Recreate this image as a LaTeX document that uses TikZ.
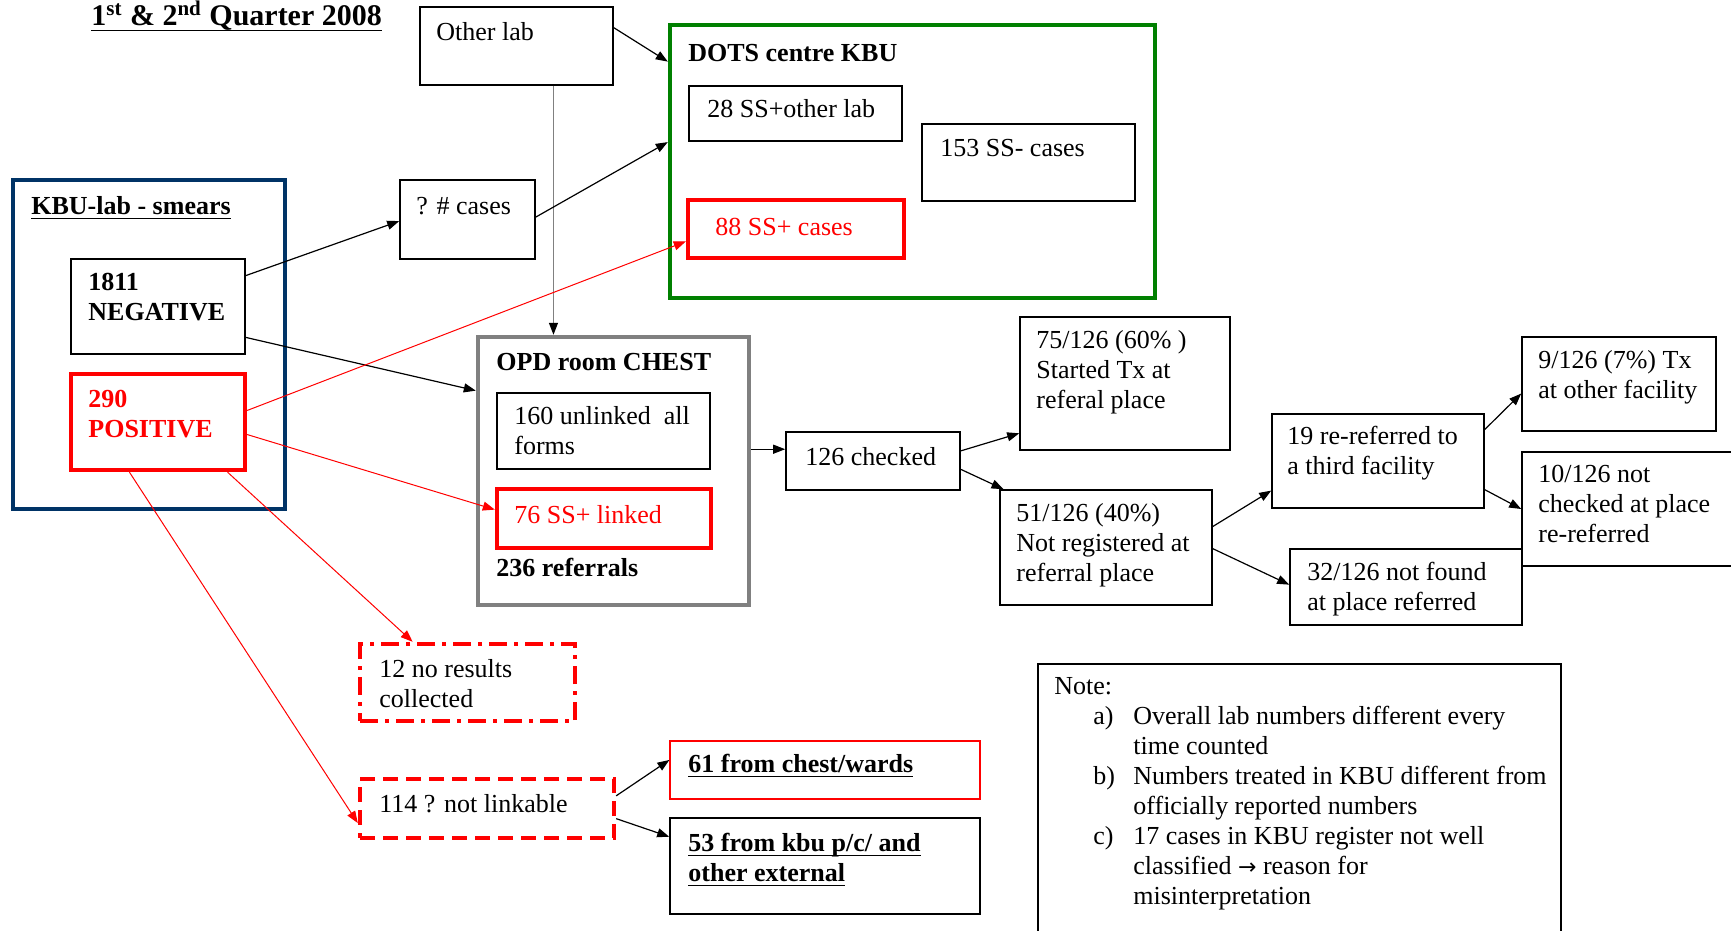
\documentclass[tikz,border=0pt]{standalone}
\usepackage{fontspec}
\setmainfont{Liberation Serif}
\newfontfamily\arrowfont{DejaVu Sans}
\usetikzlibrary{arrows.meta,fit,calc}
\newcommand\fs{\fontsize{13}{15}\selectfont}
\newcommand\myul[1]{\setbox0\hbox{#1}\rlap{\rule[-2.5pt]{\wd0}{0.7pt}}\box0}
\definecolor{navyb}{RGB}{0,51,102}
\definecolor{dgreen}{RGB}{0,128,0}
\definecolor{boxgray}{RGB}{128,128,128}
\definecolor{pred}{RGB}{255,0,0}
\begin{document}
\begin{tikzpicture}[x=0.5pt,y=-0.5pt,
 bx/.style={draw=black, line width=0.8pt, inner sep=0pt},
 thk/.style={line width=2.2pt, inner sep=0pt},
 txt/.style={anchor=north west, inner sep=0pt, align=left, font=\fs},
 arr/.style={-{Triangle[length=6pt,width=4.5pt]}, line width=0.6pt},
 rarr/.style={-{Triangle[length=6pt,width=4.5pt]}, draw=pred, line width=0.5pt}
]
\useasboundingbox (0,0) rectangle (1731,931);
\clip (0,0) rectangle (1731,931);
\fill[white] (0,0) rectangle (1731,931);

% title
\node[anchor=base west, inner sep=0pt, font=\fontsize{15}{17}\selectfont\bfseries] (title) at (91,26) {\myul{1\textsuperscript{st} \& 2\textsuperscript{nd} Quarter 2008}};

% Other lab
\node[bx, fit={(420,7)(613,85)}] (ol) {};
\node[txt] (olt) at (436,19) {\strut Other lab};

% DOTS centre
\node[thk, draw=dgreen, fit={(670,25)(1155,298)}] (dots) {};
\node[txt, font=\fs\bfseries] (dotst) at (688,40) {\strut DOTS centre KBU};
\node[bx, fit={(689,86)(902,141)}] (s28) {};
\node[txt] (s28t) at (707,96) {\strut 28 SS+other lab};
\node[bx, fit={(922,124)(1135,201)}] (s153) {};
\node[txt] (s153t) at (940,135) {\strut 153 SS- cases};
\node[thk, draw=pred, fit={(688,200)(904,258)}] (s88) {};
\node[txt, text=pred] (s88t) at (715,214) {\strut 88 SS+ cases};

% KBU lab
\node[thk, draw=navyb, fit={(13,180)(285,509)}] (kbu) {};
\node[txt, font=\fs\bfseries] (kbut) at (31,193) {\strut\myul{KBU-lab - smears}};
\node[bx, fit={(71,259)(245,354)}] (neg) {};
\node[txt, font=\fs\bfseries] (negt) at (88,269) {\strut 1811\\NEGATIVE};
\node[thk, draw=pred, fit={(71,374)(245,470)}] (pos) {};
\node[txt, font=\fs\bfseries, text=pred] (post) at (88,386) {\strut 290\\POSITIVE};

% ? # cases
\node[bx, fit={(400,180)(535,259)}] (cases) {};
\node[txt] (casest) at (416,193) {\strut ? \# cases};

% OPD
\node[thk, draw=boxgray, fit={(478,337)(749,605)}] (opd) {};
\node[txt, font=\fs\bfseries] (opdt) at (496,349) {\strut OPD room CHEST};
\node[bx, fit={(497,393)(710,469)}] (s160) {};
\node[txt] (s160t) at (514,403) {\strut 160 unlinked\ \ all\\forms};
\node[thk, draw=pred, fit={(497,489)(711,548)}] (s76) {};
\node[txt, text=pred] (s76t) at (514,502) {\strut 76 SS+ linked};
\node[txt, font=\fs\bfseries] (reft) at (496,555) {\strut 236 referrals};

% right chain
\node[bx, fit={(786,432)(960,490)}] (c126) {};
\node[txt] (c126t) at (805,444) {\strut 126 checked};
\node[bx, fit={(1020,317)(1230,450)}] (n75) {};
\node[txt] (n75t) at (1036,327) {\strut 75/126 (60\% )\\Started Tx at\\referal place};
\node[bx, fit={(1000,490)(1212,605)}] (n51) {};
\node[txt] (n51t) at (1016,500) {\strut 51/126 (40\%)\\Not registered at\\referral place};
\node[bx, fit={(1272,414)(1484,508)}] (n19) {};
\node[txt] (n19t) at (1287,423) {\strut 19 re-referred to\\a third facility};
\node[bx, fit={(1290,549)(1522,625)}] (n32) {};
\node[txt] (n32t) at (1307,559) {\strut 32/126 not found\\at place referred};
\node[bx, fit={(1522,337)(1716,431)}] (n9) {};
\node[txt] (n9t) at (1538,347) {\strut 9/126 (7\%) Tx\\at other facility};
\node[bx, fit={(1522,452)(1745,566)}] (n10) {};
\node[txt] (n10t) at (1538,461) {\strut 10/126 not\\checked at place\\re-referred};

% bottom left
\node[thk, draw=pred, dash pattern=on 9pt off 3.5pt on 2pt off 3.5pt, fit={(360,644)(575,721)}] (n12) {};
\node[txt] (n12t) at (379,656) {\strut 12 no results\\collected};
\node[thk, draw=pred, dash pattern=on 7.5pt off 4pt, fit={(360,779)(614,838)}] (n114) {};
\node[txt] (n114t) at (379,791) {\strut 114 ? not linkable};
\node[draw=pred, line width=0.6pt, inner sep=0pt, fit={(670,741)(980,799)}] (n61) {};
\node[txt, font=\fs\bfseries] (n61t) at (688,751) {\strut\myul{61 from chest/wards}};
\node[bx, fit={(670,818)(980,914)}] (n53) {};
\node[txt, font=\fs\bfseries] (n53t) at (688,830) {\strut\myul{53 from kbu p/c/ and}\\\myul{other external}};

% note
\node[bx, fit={(1038,664)(1561,945)}] (note) {};
\node[txt] (notet) at (1054,673) {%
\begin{tabular}{@{}p{19.5pt}@{}p{20pt}@{}l@{}}
\multicolumn{3}{@{}l}{Note:}\\
 & a) & Overall lab numbers different every\\
 & & time counted\\
 & b) & Numbers treated in KBU different from\\
 & & officially reported numbers\\
 & c) & 17 cases in KBU register not well\\
 & & classified {\arrowfont\fontsize{11}{15}\selectfont →} reason for\\
 & & misinterpretation
\end{tabular}};

% connectors
\draw[arr] ($(ol.north east)!0.27!(ol.south east)$) -- ($(dots.north west)!0.14!(dots.south west)$);
\coordinate (vtop) at ($(ol.south west)!0.69!(ol.south east)$);
\draw[line width=0.6pt, draw=black!50, -{Triangle[length=6pt,width=4.5pt,color=black]}] (vtop) -- (vtop |- opd.north);
\draw[arr] ($(cases.north east)!0.47!(cases.south east)$) -- ($(dots.north west)!0.43!(dots.south west)$);
\draw[arr] ($(neg.north east)!0.18!(neg.south east)$) -- ($(cases.north west)!0.52!(cases.south west)$);
\draw[arr] ($(neg.north east)!0.82!(neg.south east)$) -- ($(opd.north west)!0.205!(opd.south west)$);
\draw[rarr] ($(pos.north east)!0.385!(pos.south east)$) -- ($(s88.north west)!0.7!(s88.south west)$);
\draw[rarr] ($(pos.north east)!0.625!(pos.south east)$) -- ($(s76.north west)!0.36!(s76.south west)$);
\draw[rarr] ($(pos.south west)!0.89!(pos.south east)$) -- ($(n12.north west)!0.25!(n12.north east)$);
\draw[rarr] ($(pos.south west)!0.34!(pos.south east)$) -- ($(n114.north west)!0.73!(n114.south west)$);
\coordinate (h1) at ($(opd.north east)!0.42!(opd.south east)$);
\draw[arr] (h1) -- (h1 -| c126.west);
\draw[arr] ($(c126.north east)!0.33!(c126.south east)$) -- ($(n75.north west)!0.87!(n75.south west)$);
\draw[arr] ($(c126.north east)!0.64!(c126.south east)$) -- ($(n51.north west)!0.02!(n51.north east)$);
\draw[arr] ($(n51.north east)!0.32!(n51.south east)$) -- ($(n19.north west)!0.81!(n19.south west)$);
\draw[arr] ($(n51.north east)!0.51!(n51.south east)$) -- ($(n32.north west)!0.47!(n32.south west)$);
\draw[arr] ($(n19.north east)!0.17!(n19.south east)$) -- ($(n9.north west)!0.6!(n9.south west)$);
\draw[arr] ($(n19.north east)!0.8!(n19.south east)$) -- ($(n10.north west)!0.5!(n10.south west)$);
\draw[arr] ($(n114.north east)!0.3!(n114.south east)$) -- ($(n61.north west)!0.33!(n61.south west)$);
\draw[arr] ($(n114.north east)!0.66!(n114.south east)$) -- ($(n53.north west)!0.2!(n53.south west)$);
\end{tikzpicture}
\end{document}
